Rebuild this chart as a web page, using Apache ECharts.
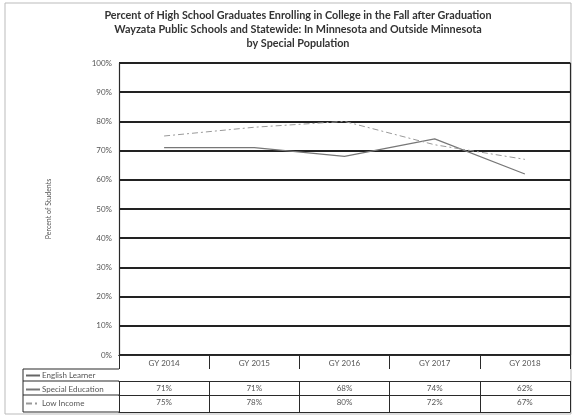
<!DOCTYPE html>
<html>
<head>
<meta charset="utf-8">
<script src="https://cdn.jsdelivr.net/npm/echarts@6/dist/echarts.min.js"></script>
<style>
  html, body { margin: 0; padding: 0; background: #fff; }
  #chart { width: 572px; height: 418px; }
</style>
</head>
<body>
<div id="chart"></div>
<script>
  // 数据
  const years = ['GY 2014', 'GY 2015', 'GY 2016', 'GY 2017', 'GY 2018'];
  const englishLearner = [null, null, null, null, null];
  const specialEducation = [71, 71, 68, 74, 62];
  const lowIncome = [75, 78, 80, 72, 67];
  const yTicks = [0, 10, 20, 30, 40, 50, 60, 70, 80, 90, 100];

  const font = 'Lato';
  const gridLine = '#2a2a2a';
  const textColor = '#555';

  const chart = echarts.init(document.getElementById('chart'));

  // 表格行: 轴线位置 offset, 标签, tick 长度
  function rowAxis(offset, values, tickLen) {
    return {
      type: 'category',
      data: years,
      position: 'bottom',
      offset: offset,
      axisLine: { show: true, lineStyle: { color: gridLine, width: 1.2 } },
      axisTick: { show: tickLen > 0, length: tickLen, interval: 0, lineStyle: { color: gridLine, width: 1 } },
      axisLabel: {
        show: !!values,
        interval: 0,
        margin: 3,
        fontFamily: font,
        fontSize: 8,
        color: textColor,
        formatter: function (v, i) {
          return values && values[i] != null ? values[i] + '%' : '';
        }
      },
      splitLine: { show: false }
    };
  }

  const mainAxis = rowAxis(0, null, 14);
  mainAxis.axisLabel.show = true;
  mainAxis.axisLabel.margin = 4;
  mainAxis.axisLabel.formatter = function (v) { return v; };

  const tableLeft = 23, tableRight = 119;
  const rowLines = [369, 381, 395, 412];

  chart.setOption({
    animation: false,
    title: {
      text: 'Percent of High School Graduates Enrolling in College in the Fall after Graduation\nWayzata Public Schools and Statewide: In Minnesota and Outside Minnesota\nby Special Population',
      left: 298,
      top: 9,
      textAlign: 'center',
      padding: 0,
      textStyle: {
        fontFamily: font,
        fontWeight: 'bold',
        fontSize: 10.8,
        lineHeight: 14,
        color: '#333'
      }
    },
    legend: {
      orient: 'vertical',
      left: tableLeft + 2,
      top: 370.5,
      padding: 0,
      itemWidth: 14,
      itemHeight: 6,
      itemGap: 4,
      itemStyle: { opacity: 0 },
      data: ['English Learner', 'Special Education', 'Low Income'],
      textStyle: { fontFamily: font, fontSize: 8, lineHeight: 10, color: textColor, padding: [0, 0, 0, -3] }
    },
    grid: { left: 119, right: 2, top: 63, bottom: 63 },
    xAxis: [
      mainAxis,
      rowAxis(14, null, 12),
      rowAxis(26, specialEducation, 14),
      rowAxis(40, lowIncome, 17),
      rowAxis(57, null, 0)
    ],
    yAxis: [
      {
        type: 'value',
        min: yTicks[0],
        max: yTicks[yTicks.length - 1],
        interval: 10,
        name: 'Percent of Students',
        nameLocation: 'middle',
        nameGap: 67,
        nameRotate: 90,
        nameTextStyle: { fontFamily: font, fontSize: 7, color: textColor },
        axisLine: { show: true, lineStyle: { color: gridLine, width: 1.2 } },
        axisTick: { show: false },
        axisLabel: {
          fontFamily: font,
          fontSize: 8,
          color: textColor,
          margin: 7,
          formatter: '{value}%'
        },
        splitLine: { show: true, lineStyle: { color: '#222', width: 1.8 } }
      },
      {
        type: 'value',
        position: 'right',
        min: 0,
        max: 100,
        axisLine: { show: true, lineStyle: { color: gridLine, width: 1.2 } },
        axisTick: { show: false },
        axisLabel: { show: false },
        splitLine: { show: false }
      }
    ],
    series: [
      {
        name: 'English Learner',
        type: 'line',
        data: englishLearner,
        symbol: 'none',
        itemStyle: { color: '#666' },
        lineStyle: { color: '#666', width: 1 }
      },
      {
        name: 'Special Education',
        type: 'line',
        data: specialEducation,
        symbol: 'none',
        itemStyle: { color: '#777' },
        lineStyle: { color: '#777', width: 1.2 }
      },
      {
        name: 'Low Income',
        type: 'line',
        data: lowIncome,
        symbol: 'none',
        itemStyle: { color: '#999' },
        lineStyle: { color: '#999', width: 1, type: [6, 3, 2, 3] }
      }
    ],
    graphic: [
      {
        type: 'rect',
        shape: { x: 5, y: 3, width: 566, height: 411 },
        style: { fill: 'none', stroke: '#bbb', lineWidth: 1 },
        silent: true
      },
      {
        type: 'line',
        shape: { x1: tableLeft, y1: rowLines[0], x2: tableLeft, y2: rowLines[3] },
        style: { stroke: gridLine, lineWidth: 1 }
      }
    ].concat(rowLines.map(function (y) {
      return {
        type: 'line',
        shape: { x1: tableLeft, y1: y, x2: tableRight, y2: y },
        style: { stroke: gridLine, lineWidth: 1.2 }
      };
    }))
  });
</script>
</body>
</html>
